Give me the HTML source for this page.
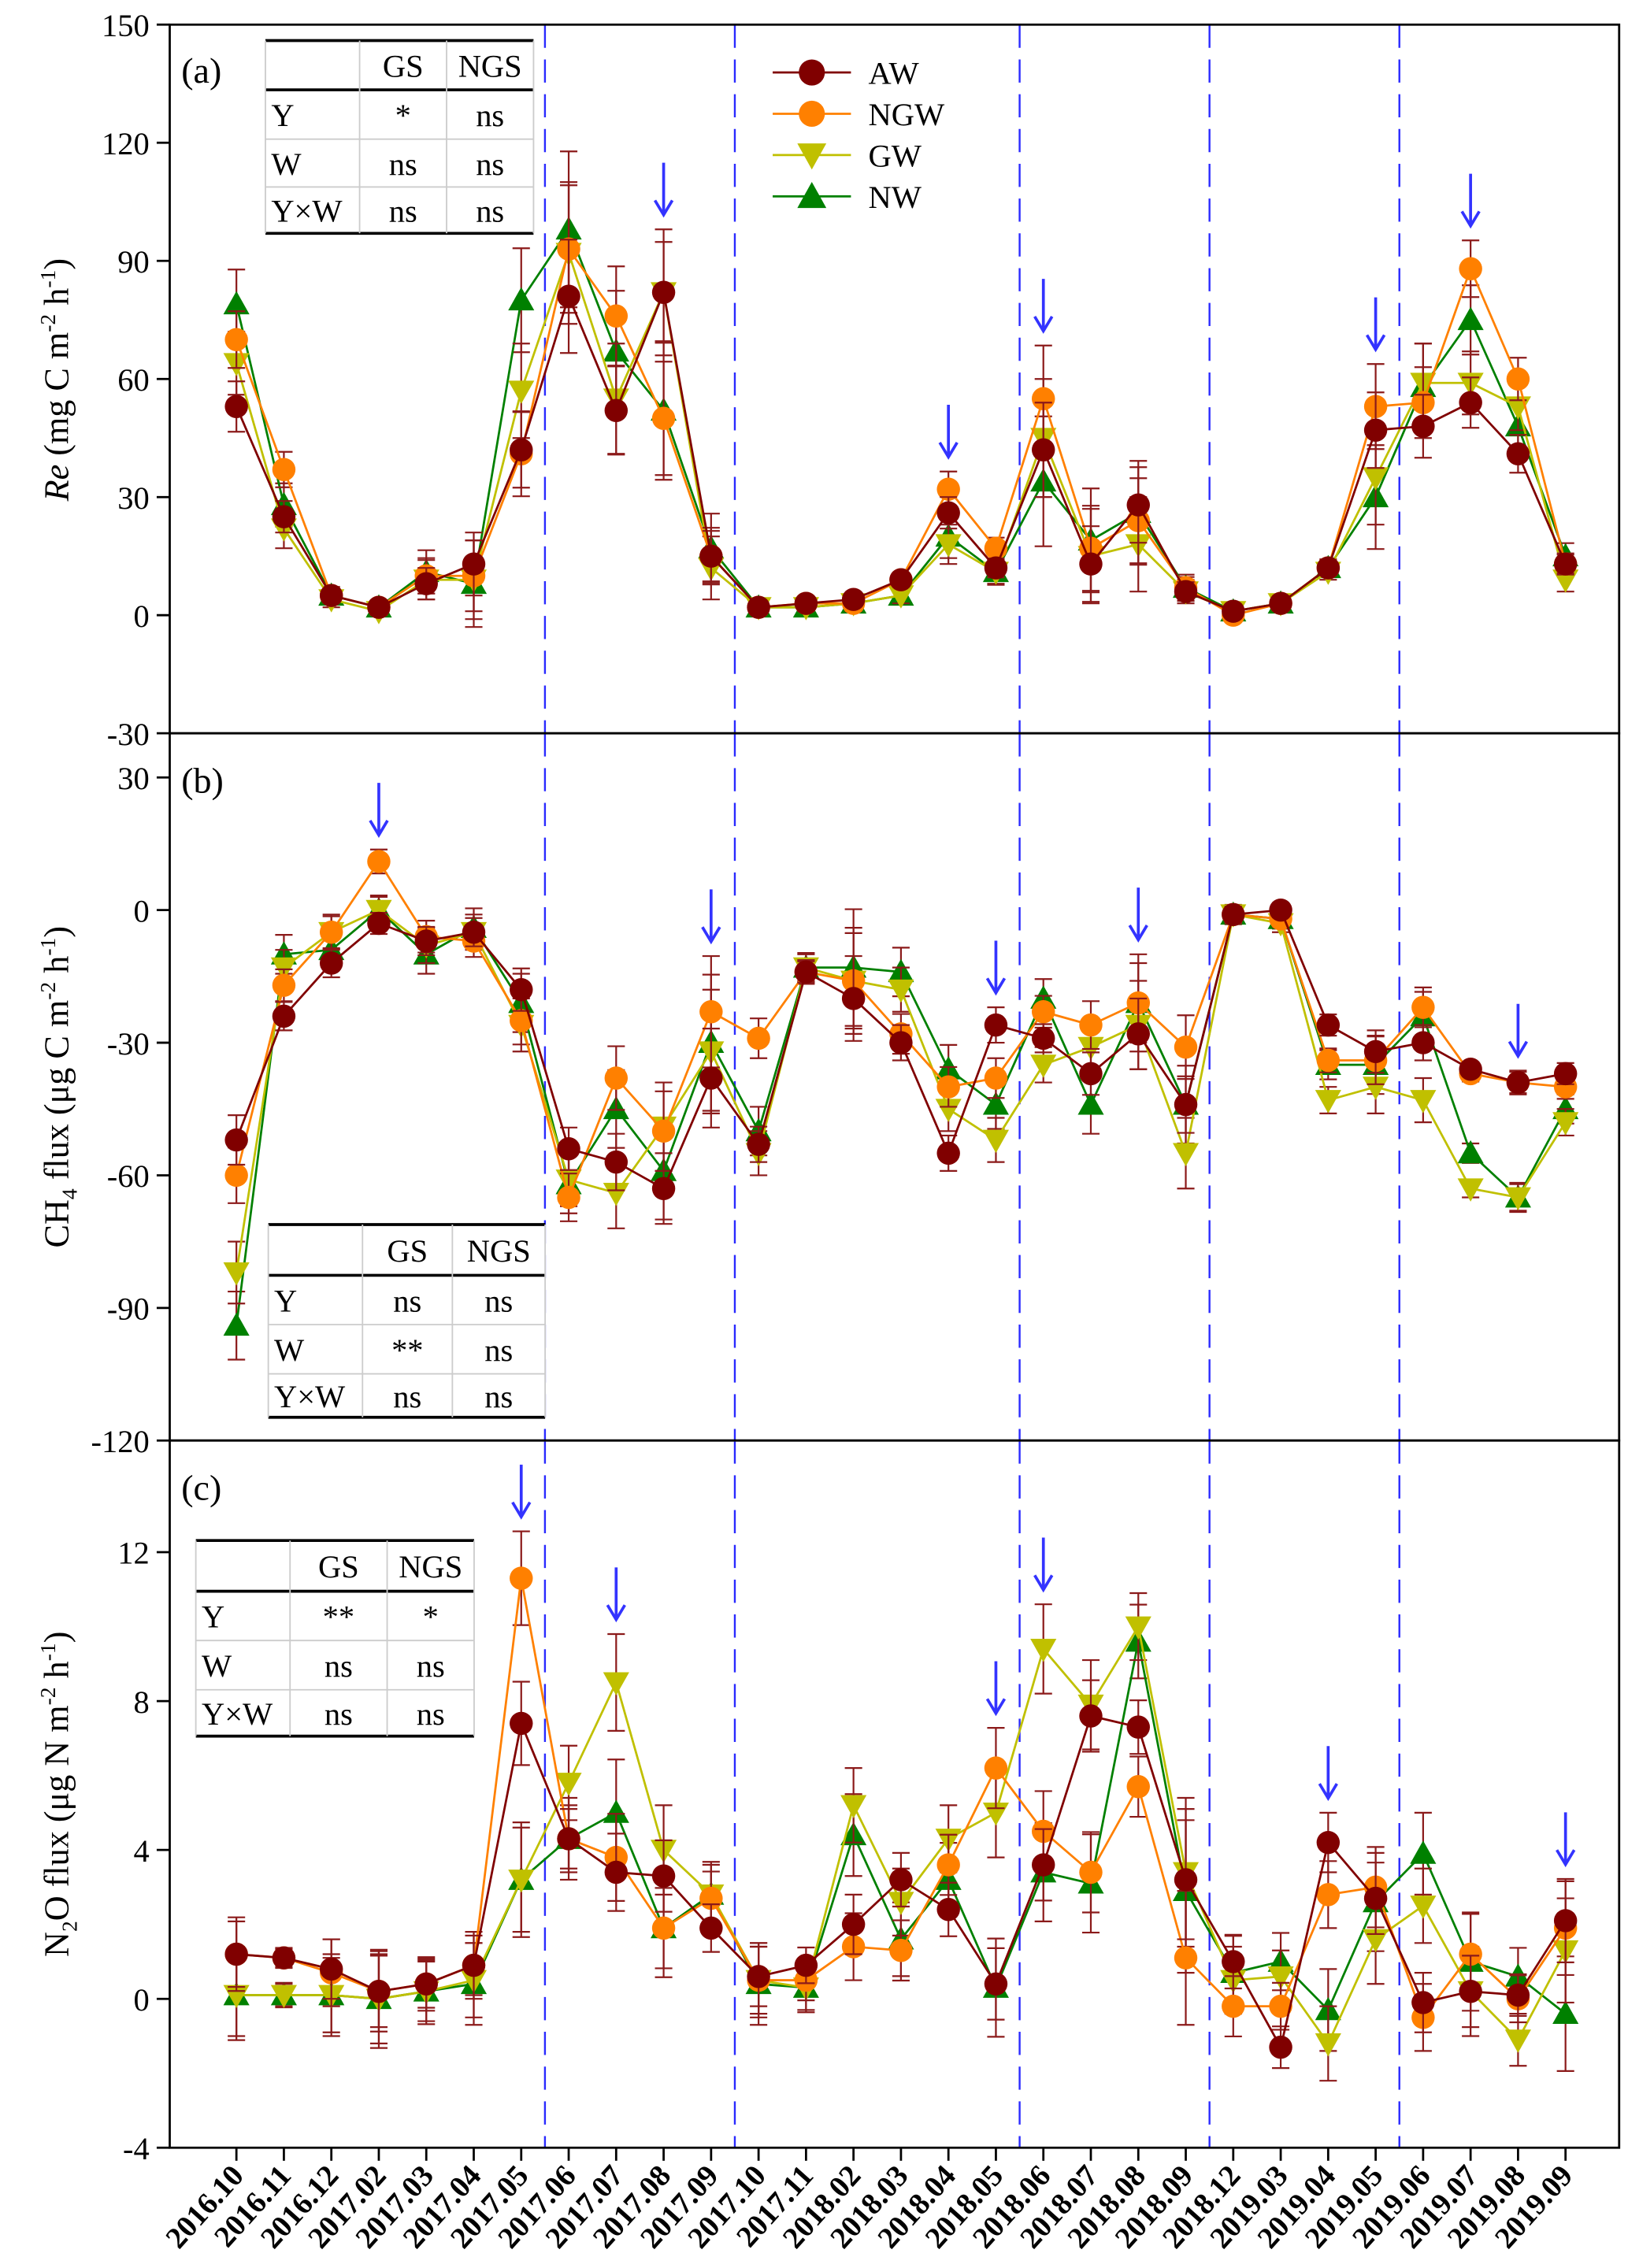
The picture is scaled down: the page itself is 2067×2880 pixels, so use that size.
<!DOCTYPE html>
<html><head><meta charset="utf-8">
<style>
html,body{margin:0;padding:0;background:#fff;}
svg{display:block;font-family:"Liberation Serif",serif;}
</style></head>
<body>
<svg id="chart" width="2067" height="2880" viewBox="0 0 1123 1565" xmlns="http://www.w3.org/2000/svg"></svg>
<script>
const categories=["2016.10","2016.11","2016.12","2017.02","2017.03","2017.04","2017.05","2017.06","2017.07","2017.08","2017.09","2017.10","2017.11","2018.02","2018.03","2018.04","2018.05","2018.06","2018.07","2018.08","2018.09","2018.12","2019.03","2019.04","2019.05","2019.06","2019.07","2019.08","2019.09"];
const seriesNames=["AW","NGW","GW","NW"];
const reAW=[53,25,5,2,8,13,42,81,52,82,15,2,3,4,9,26,12,42,13,28,6,1,3,12,47,48,54,41,13];
const reNGW=[70,37,5,2,10,10,41,93,76,50,15,2,3,3,9,32,17,55,17,24,7,0,3,12,53,54,88,60,13];
const reGW=[64,22,4,1,9,9,57,92,55,82,12,2,2,3,5,18,11,45,15,18,6,1,3,11,35,59,59,53,9];
const reNW=[79,28,5,2,11,8,80,98,67,52,17,2,2,3,5,20,11,34,19,26,7,1,3,12,30,58,75,48,15];
const reErr=[8,5,2,1,5,10,12,18,14,16,8,1,1,2,2,5,3,15,12,12,3,1,1,2,12,10,8,6,3];
const chAW=[-52,-24,-12,-3,-7,-5,-18,-54,-57,-63,-38,-53,-14,-20,-30,-55,-26,-29,-37,-28,-44,-1,0,-26,-32,-30,-36,-39,-37];
const chNGW=[-60,-17,-5,11,-6,-7,-25,-65,-38,-50,-23,-29,-14,-16,-28,-40,-38,-23,-26,-21,-31,-1,-2,-34,-34,-22,-37,-39,-40];
const chGW=[-82,-13,-5,0,-8,-5,-26,-61,-64,-49,-32,-55,-13,-16,-18,-45,-52,-35,-31,-26,-55,-1,-3,-43,-40,-43,-63,-65,-48];
const chNW=[-94,-10,-9,0,-10,-4,-21,-62,-45,-59,-30,-50,-13,-13,-14,-36,-44,-20,-44,-21,-44,-1,-2,-35,-35,-24,-55,-65,-45];
const chErr=[7,4,4,3,4,4,6,6,8,10,14,5,3,12,5,5,5,4,6,10,8,2,2,3,6,5,2,3,3];
const nAW=[1.2,1.1,0.8,0.2,0.4,0.9,7.4,4.3,3.4,3.3,1.9,0.6,0.9,2.0,3.2,2.4,0.4,3.6,7.6,7.3,3.2,1.0,-1.3,4.2,2.7,-0.1,0.2,0.1,2.1];
const nNGW=[1.2,1.1,0.7,0.2,0.4,0.9,11.3,4.3,3.8,1.9,2.7,0.5,0.5,1.4,1.3,3.6,6.2,4.5,3.4,5.7,1.1,-0.2,-0.2,2.8,3.0,-0.5,1.2,0.0,1.9];
const nGW=[0.1,0.1,0.1,0.0,0.2,0.5,3.2,5.8,8.5,4.0,2.8,0.5,0.3,5.2,2.6,4.3,5.0,9.4,7.9,10.0,3.4,0.5,0.6,-1.2,1.6,2.5,0.2,-1.1,1.3];
const nNW=[0.1,0.1,0.1,0.0,0.2,0.4,3.2,4.3,5.0,1.9,2.8,0.4,0.3,4.4,1.6,3.2,0.3,3.4,3.1,9.6,2.9,0.7,1.0,-0.3,2.6,3.9,1.0,0.6,-0.4];
const nErr=[1.1,0.3,1.0,1.2,0.8,1.0,1.4,1.0,1.3,1.2,0.8,1.0,0.6,1.0,0.9,0.9,1.2,1.2,1.2,0.9,2.0,0.9,0.7,1.0,1.2,1.0,1.2,0.7,1.4];
const reTicks=[-30,0,30,60,90,120,150];
const chTicks=[-120,-90,-60,-30,0,30];
const nTicks=[-4,0,4,8,12];
const arrowsA=[9,15,17,24,26], arrowsB=[3,10,16,19,27], arrowsC=[6,8,16,17,23,28];

const colors=["#800000","#ff8000","#c0c000","#008000"];
const NS="http://www.w3.org/2000/svg";
const svg=document.getElementById('chart');
function mk(tag,attrs,parent,text){const e=document.createElementNS(NS,tag);for(const k in attrs)e.setAttribute(k,attrs[k]);if(text!==undefined)e.textContent=text;(parent||svg).appendChild(e);return e;}
const L=117,R=1117;
function xs(i){return 163+i*(1080-163)/28;}
const panels=[
 {key:'re',top:17,bot:506,min:-30,max:150,ticks:reTicks,data:[reAW,reNGW,reGW,reNW],err:reErr,arrows:arrowsA,label:'(a)',ly:48},
 {key:'ch4',top:506,bot:994,min:-120,max:40,ticks:chTicks,data:[chAW,chNGW,chGW,chNW],err:chErr,arrows:arrowsB,label:'(b)',ly:538},
 {key:'n2o',top:994,bot:1482,min:-4,max:15,ticks:nTicks,data:[nAW,nNGW,nGW,nNW],err:nErr,arrows:arrowsC,label:'(c)',ly:1026}
];
panels.forEach(p=>{
 const ys=v=>p.bot-(v-p.min)/(p.max-p.min)*(p.bot-p.top);
 const g=mk('g',{});
 
 
 [6.5,10.5,16.5,20.5,24.5].forEach(m=>{
  const l=mk('line',{x1:xs(m),x2:xs(m),y1:p.top,y2:p.bot,stroke:'#2a2aff','stroke-width':1.3,'stroke-dasharray':'16,8'},g);
  
  
 });
 const fr=mk('rect',{x:L,y:p.top,width:R-L,height:p.bot-p.top,fill:'none',stroke:'#000','stroke-width':1.5},g);
 
 
 p.ticks.forEach(t=>{
  const y=ys(t);
  mk('line',{x1:L-9,x2:L,y1:y,y2:y,stroke:'#000','stroke-width':1.5},g);
  const tx=mk('text',{x:L-14,y:y+8,'text-anchor':'end','font-size':22},g,String(t));
  
  
 });
 for(let s=3;s>=0;s--){
  const d=p.data[s];
  const sg=mk('g',{},g);
  
  
  d.forEach((v,i)=>{
   const x=xs(i),e=p.err[i]*(0.8+0.1*s);
   const y1=ys(v+e),y2=ys(v-e);
   mk('line',{x1:x,x2:x,y1:y1,y2:y2,stroke:'#8b1a1a','stroke-width':1.2},sg);
   mk('line',{x1:x-6,x2:x+6,y1:y1,y2:y1,stroke:'#8b1a1a','stroke-width':1.2},sg);
   mk('line',{x1:x-6,x2:x+6,y1:y2,y2:y2,stroke:'#8b1a1a','stroke-width':1.2},sg);
  });
  const pts=d.map((v,i)=>xs(i)+','+ys(v)).join(' ');
  const pl=mk('polyline',{points:pts,fill:'none',stroke:colors[s],'stroke-width':1.5},sg);
  
  
  d.forEach((v,i)=>{
   const x=xs(i),y=ys(v);let m;
   if(s<2)m=mk('circle',{cx:x,cy:y,r:8,fill:colors[s]},sg);
   else if(s===2)m=mk('polygon',{points:`${x-9},${y-7} ${x+9},${y-7} ${x},${y+9}`,fill:colors[s]},sg);
   else m=mk('polygon',{points:`${x-9},${y+7} ${x+9},${y+7} ${x},${y-9}`,fill:colors[s]},sg);
   
   
  });
 }
 p.arrows.forEach(i=>{
  const d=Math.max(...p.data.map((a,s)=>a[i]+p.err[i]*(0.8+0.1*s)));
  const tip=ys(d)-10,x=xs(i);
  const ag=mk('g',{},g);
  
  
  mk('line',{x1:x,x2:x,y1:tip-36,y2:tip,stroke:'#3333ff','stroke-width':2},ag);
  mk('polyline',{points:`${x-6},${tip-10} ${x},${tip} ${x+6},${tip-10}`,fill:'none',stroke:'#3333ff','stroke-width':2},ag);
 });
 const lb=mk('text',{x:125,y:p.ly+9,'font-size':25},g,p.label);
 
 
});
categories.forEach((c,i)=>{
 const x=xs(i);
 mk('line',{x1:x,x2:x,y1:1482,y2:1491,stroke:'#000','stroke-width':1.5});
 const t=mk('text',{x:x+6,y:1502,'text-anchor':'end','font-size':21,'font-weight':'bold',transform:`rotate(-48 ${x+6} 1502)`},svg,c);
 
 
});
function ytitle(cy,parts,name){
 const t=mk('text',{x:0,y:0,'font-size':24,'text-anchor':'middle',transform:`translate(47 ${cy}) rotate(-90)`});
 
 
 parts.forEach(p=>{mk('tspan',p.a||{},t,p.t);});
}
ytitle(262,[{t:'Re',a:{'font-style':'italic'}},{t:' (mg C m'},{t:'-2',a:{'font-size':15,dy:-9}},{t:' h',a:{dy:9}},{t:'-1',a:{'font-size':15,dy:-9}},{t:')',a:{dy:9}}],'re-y-axis-title');
ytitle(750,[{t:'CH'},{t:'4',a:{'font-size':15,dy:6}},{t:' flux (μg C m',a:{dy:-6}},{t:'-2',a:{'font-size':15,dy:-9}},{t:' h',a:{dy:9}},{t:'-1',a:{'font-size':15,dy:-9}},{t:')',a:{dy:9}}],'ch4-y-axis-title');
ytitle(1238,[{t:'N'},{t:'2',a:{'font-size':15,dy:6}},{t:'O flux (μg N m',a:{dy:-6}},{t:'-2',a:{'font-size':15,dy:-9}},{t:' h',a:{dy:9}},{t:'-1',a:{'font-size':15,dy:-9}},{t:')',a:{dy:9}}],'n2o-y-axis-title');
const lg=mk('g',{});


seriesNames.forEach((n,s)=>{
 const y=50+s*28.5,x=560;
 const e=mk('g',{},lg);
 
 
 mk('line',{x1:533,x2:587,y1:y,y2:y,stroke:colors[s],'stroke-width':1.5},e);
 if(s<2)mk('circle',{cx:x,cy:y,r:9,fill:colors[s]},e);
 else if(s===2)mk('polygon',{points:`${x-10},${y-8} ${x+10},${y-8} ${x},${y+10}`,fill:colors[s]},e);
 else mk('polygon',{points:`${x-10},${y+8} ${x+10},${y+8} ${x},${y-10}`,fill:colors[s]},e);
 mk('text',{x:599,y:y+8,'font-size':22},e,n);
});
function table(x0,cols,rows,vals,name){
 const g=mk('g',{});
 
 
 mk('rect',{x:x0,y:rows[0],width:cols[3]-x0,height:rows[4]-rows[0],fill:'#fff'},g);
 for(let r=1;r<4;r++)mk('line',{x1:x0,x2:cols[3],y1:rows[r],y2:rows[r],stroke:r===1?'#000':'#ccc','stroke-width':r===1?2:1},g);
 mk('line',{x1:x0,x2:cols[3],y1:rows[0],y2:rows[0],stroke:'#000','stroke-width':2},g);
 mk('line',{x1:x0,x2:cols[3],y1:rows[4],y2:rows[4],stroke:'#000','stroke-width':2},g);
 [x0,cols[1],cols[2],cols[3]].forEach(cx=>mk('line',{x1:cx,x2:cx,y1:rows[0],y2:rows[4],stroke:'#ccc','stroke-width':1},g));
 const head=['','GS','NGS'],lab=['Y','W','Y×W'];
 for(let r=0;r<4;r++){
  const ty=(rows[r]+rows[r+1])/2+8;
  for(let c=0;c<3;c++){
   const txt=r===0?head[c]:(c===0?lab[r-1]:vals[r-1][c-1]);
   if(!txt)continue;
   const cx=c===0?x0+4:(cols[c]+cols[c+1])/2;
   mk('text',{x:cx,y:ty,'font-size':22,'text-anchor':c===0?'start':'middle'},g,txt);
  }
 }
}
table(183,[183,248,308,368],[28,62,96,129,161],[['*','ns'],['ns','ns'],['ns','ns']],'stats-table-a');
table(185,[185,250,312,376],[845,880,914,948,978],[['ns','ns'],['**','ns'],['ns','ns']],'stats-table-b');
table(135,[135,200,267,327],[1063,1098,1132,1166,1198],[['**','*'],['ns','ns'],['ns','ns']],'stats-table-c');
</script>
</body></html>
